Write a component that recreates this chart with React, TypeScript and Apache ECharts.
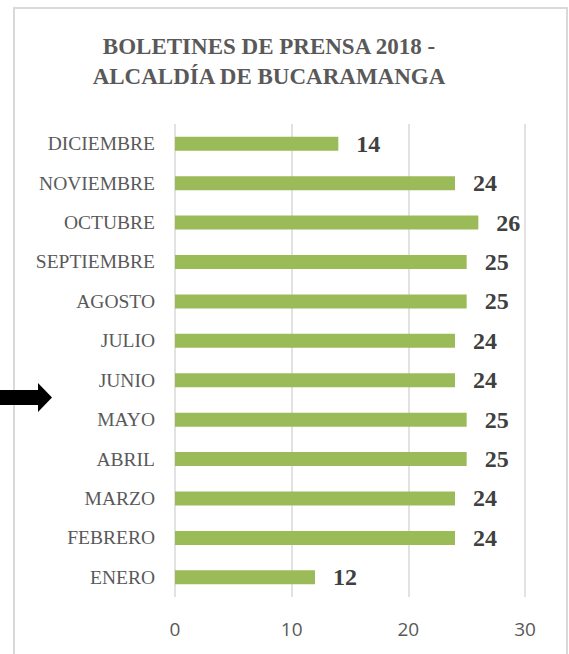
import React, { useEffect, useRef } from "react";
import * as echarts from "echarts";

const months = [
  "ENERO",
  "FEBRERO",
  "MARZO",
  "ABRIL",
  "MAYO",
  "JUNIO",
  "JULIO",
  "AGOSTO",
  "SEPTIEMBRE",
  "OCTUBRE",
  "NOVIEMBRE",
  "DICIEMBRE",
];
const boletines = [12, 24, 24, 25, 25, 24, 24, 25, 25, 26, 24, 14];
const titleLines = ["BOLETINES DE PRENSA 2018 -", "ALCALDÍA DE BUCARAMANGA"];

export default function App() {
  const ref = useRef<HTMLDivElement>(null);
  useEffect(() => {
    if (!ref.current) return;
    const chart = echarts.init(ref.current, undefined, { renderer: "svg" });
    chart.setOption({
      animation: false,
      backgroundColor: "#ffffff",
      title: {
        text: titleLines.join("\n"),
        left: 264,
        textAlign: "center",
        top: 26,
        textStyle: {
          fontFamily: "Liberation Serif",
          fontWeight: "bold",
          fontSize: 23,
          color: "#595959",
          lineHeight: 30,
        },
      },
      graphic: [
        {
          type: "rect",
          shape: { x: 14, y: 8, width: 553, height: 700 },
          style: { fill: "none", stroke: "#d9d9d9", lineWidth: 2 },
          z: -1,
        },
        {
          type: "polygon",
          shape: {
            points: [
              [0, 390],
              [38, 390],
              [38, 383],
              [52, 397.5],
              [38, 412],
              [38, 405],
              [0, 405],
            ],
          },
          style: { fill: "#000000" },
          z: 10,
        },
      ],
      grid: { left: 175, right: 44, top: 124, bottom: 57, containLabel: false },
      xAxis: {
        type: "value",
        min: 0,
        max: 30,
        interval: 10,
        axisLine: { show: false },
        axisTick: { show: false },
        axisLabel: {
          margin: 22,
          fontFamily: "Open Sans",
          fontSize: 19,
          color: "#595959",
        },
        splitLine: { show: true, lineStyle: { color: "#d9d9d9", width: 1.5 } },
      },
      yAxis: {
        type: "category",
        data: months,
        axisLine: { show: false },
        axisTick: { show: false },
        axisLabel: {
          margin: 20,
          fontFamily: "Liberation Serif",
          fontSize: 19.5,
          color: "#595959",
        },
      },
      series: [
        {
          type: "bar",
          data: boletines,
          barWidth: 14,
          itemStyle: { color: "#9bbb59" },
          label: {
            show: true,
            position: "right",
            distance: 18,
            fontFamily: "Liberation Serif",
            fontWeight: "bold",
            fontSize: 24,
            color: "#404040",
          },
        },
      ],
    });
    return () => chart.dispose();
  }, []);
  return (
    <div
      ref={ref}
      style={{ position: "fixed", left: 0, top: 0, width: 569, height: 654 }}
    />
  );
}
